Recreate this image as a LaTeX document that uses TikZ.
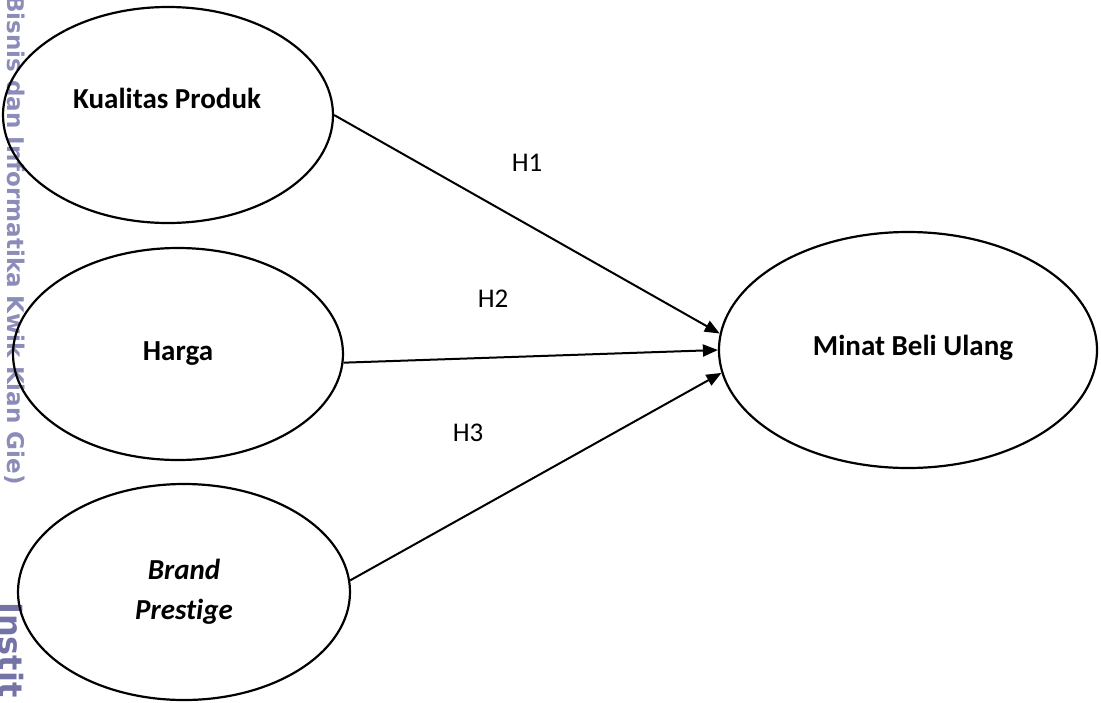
\documentclass[tikz,border=0pt]{standalone}
\usepackage{fontspec}
\setmainfont{Carlito}[Ligatures=NoCommon]
\newfontfamily\wmfont{DejaVu Sans}
\usetikzlibrary{shapes.geometric,arrows.meta}

\definecolor{wmgray}{RGB}{140,140,185}
\definecolor{wmdark}{RGB}{115,115,165}

\tikzset{
  var/.style={draw, ellipse, line width=2.2pt, inner sep=0pt,
    font=\fontsize{29}{40}\selectfont\bfseries},
  lbl/.style={font=\fontsize{29}{32}\selectfont\bfseries},
  hyp/.style={font=\fontsize{27}{30}\selectfont},
  path/.style={line width=2pt, -{Triangle[length=15pt,width=12pt]}}
}

\begin{document}
\begin{tikzpicture}[x=1pt, y=-1pt]

% Page size
\useasboundingbox (0,0) rectangle (1101,702);

% Watermark on the left edge
\node[rotate=-90, anchor=base west, inner sep=0pt, text=wmgray,
  font=\wmfont\fontsize{23}{26}\selectfont\bfseries] (wm) at (8,-5)
  {Bisnis dan Informatika Kwik Kian Gie)};
\node[rotate=-90, anchor=base west, inner sep=0pt, text=wmdark,
  font=\wmfont\fontsize{32}{34}\selectfont\bfseries] (wmi) at (-1,602) {Instit};

% Variables
\node[var, minimum width=330pt, minimum height=216pt] (kp) at (168,115) {};
\node[var, minimum width=330pt, minimum height=212pt] (hg) at (178,354) {Harga};
\node[var, minimum width=332pt, minimum height=216pt, align=center] (bp) at (184,592)
  {\itshape Brand\\\itshape Prestige};
\node[var, minimum width=378pt, minimum height=236pt] (mb) at (908,350) {};

% Labels placed off the centre
\node[lbl] (kpt) at (167,98) {Kualitas Produk};
\node[lbl] (mbt) at (913,348) {Minat Beli Ulang};

% Paths
\draw[path] (kp.east) -- (mb.175);
\draw[path] (hg.-3) -- (mb.180);
\draw[path] (bp.4) -- (mb.187);

% Hypothesis labels
\node[hyp] (h1) at (527,163) {H1};
\node[hyp] (h2) at (493,299) {H2};
\node[hyp] (h3) at (468,433) {H3};

\end{tikzpicture}
\end{document}
